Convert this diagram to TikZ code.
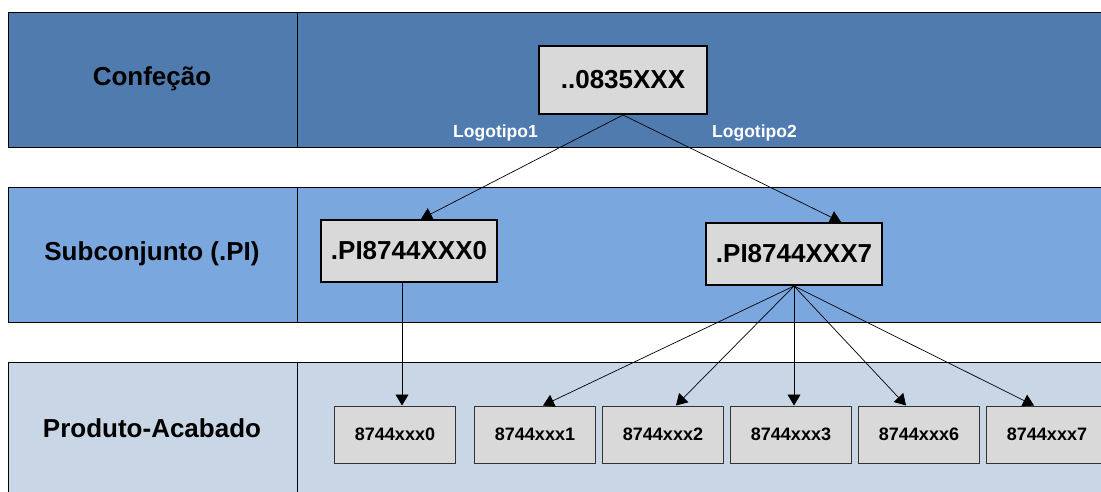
\documentclass[tikz,border=0pt]{standalone}
\usepackage{fontspec}
\setmainfont{Liberation Sans}
\usepackage{tikz}
\usetikzlibrary{positioning, arrows.meta}

\definecolor{faixaConf}{RGB}{79,123,175}
\definecolor{faixaSub}{RGB}{123,167,223}
\definecolor{faixaProd}{RGB}{200,214,230}
\definecolor{caixa}{RGB}{217,217,217}

\begin{document}
\begin{tikzpicture}[
    x=1pt, y=-1pt,
    faixa/.style={draw=black, line width=0.8pt},
    titulo/.style={font=\fontsize{26}{30}\selectfont\bfseries},
    peca/.style={rectangle, draw=black, line width=2pt, fill=caixa,
      font=\fontsize{26}{30}\selectfont\bfseries, minimum width=176pt,
      minimum height=62pt, inner sep=0pt},
    produto/.style={rectangle, draw=black!80, line width=1pt, fill=caixa,
      font=\fontsize{18}{21}\selectfont\bfseries, minimum width=121pt,
      minimum height=57pt, inner sep=0pt},
    logo/.style={text=white, font=\fontsize{17.5}{20}\selectfont\bfseries,
      inner sep=0pt},
    seta/.style={-{Triangle[width=13pt, length=11pt]}, line width=0.7pt}
    ]

    \useasboundingbox (0,0) rectangle (1101,492);
    \clip (0,0) rectangle (1101,492);

    % Faixas
    \draw[faixa, fill=faixaConf] (8,12) rectangle (1120,147);
    \draw[faixa] (297,12) -- (297,147);
    \draw[faixa, fill=faixaSub] (8,187) rectangle (1120,322);
    \draw[faixa] (297,187) -- (297,322);
    \draw[faixa, fill=faixaProd] (8,362) rectangle (1120,520);
    \draw[faixa] (297,362) -- (297,520);

    % Titulos das faixas
    \node[titulo] (conf) at (152,79) {Confeção};
    \node[titulo] (sub) at (152,254) {Subconjunto (.PI)};
    \node[titulo] (prod) at (152,428) {Produto-Acabado};

    % Pecas
    \node[peca, minimum width=168pt, minimum height=68pt] (top) at (623,80)
    {..0835XXX};
    \node[peca] (pi0) at (409,251) {.PI8744XXX0};
    \node[peca] (pi7) at (794,254) {.PI8744XXX7};

    % Logotipos
    \node[logo, below left=10pt and 0pt of top.south west] (logo1)
    {Logotipo1};
    \node[logo, below right=10pt and 4pt of top.south east] (logo2)
    {Logotipo2};

    % Produtos acabados
    \node[produto] (p0) at (395,434.5) {8744xxx0};
    \node[produto, right=18pt of p0] (p1) {8744xxx1};
    \node[produto, right=6pt of p1] (p2) {8744xxx2};
    \node[produto, right=6pt of p2] (p3) {8744xxx3};
    \node[produto, right=6pt of p3] (p6) {8744xxx6};
    \node[produto, right=6pt of p6] (p7) {8744xxx7};

    % Ligacoes
    \draw[seta] (top.south) -- ([xshift=12pt]pi0.north);
    \draw[seta] (top.south) -- ([xshift=47pt]pi7.north);
    \draw[seta] ([xshift=-7pt]pi0.south) -- ([xshift=7pt]p0.north);
    \draw[seta] (pi7.south) -- ([xshift=8pt]p1.north);
    \draw[seta] (pi7.south) -- ([xshift=13pt]p2.north);
    \draw[seta] (pi7.south) -- (pi7.south |- p3.north);
    \draw[seta] (pi7.south) -- ([xshift=-13pt]p6.north);
    \draw[seta] (pi7.south) -- ([xshift=-13pt]p7.north);

  \end{tikzpicture}
\end{document}
